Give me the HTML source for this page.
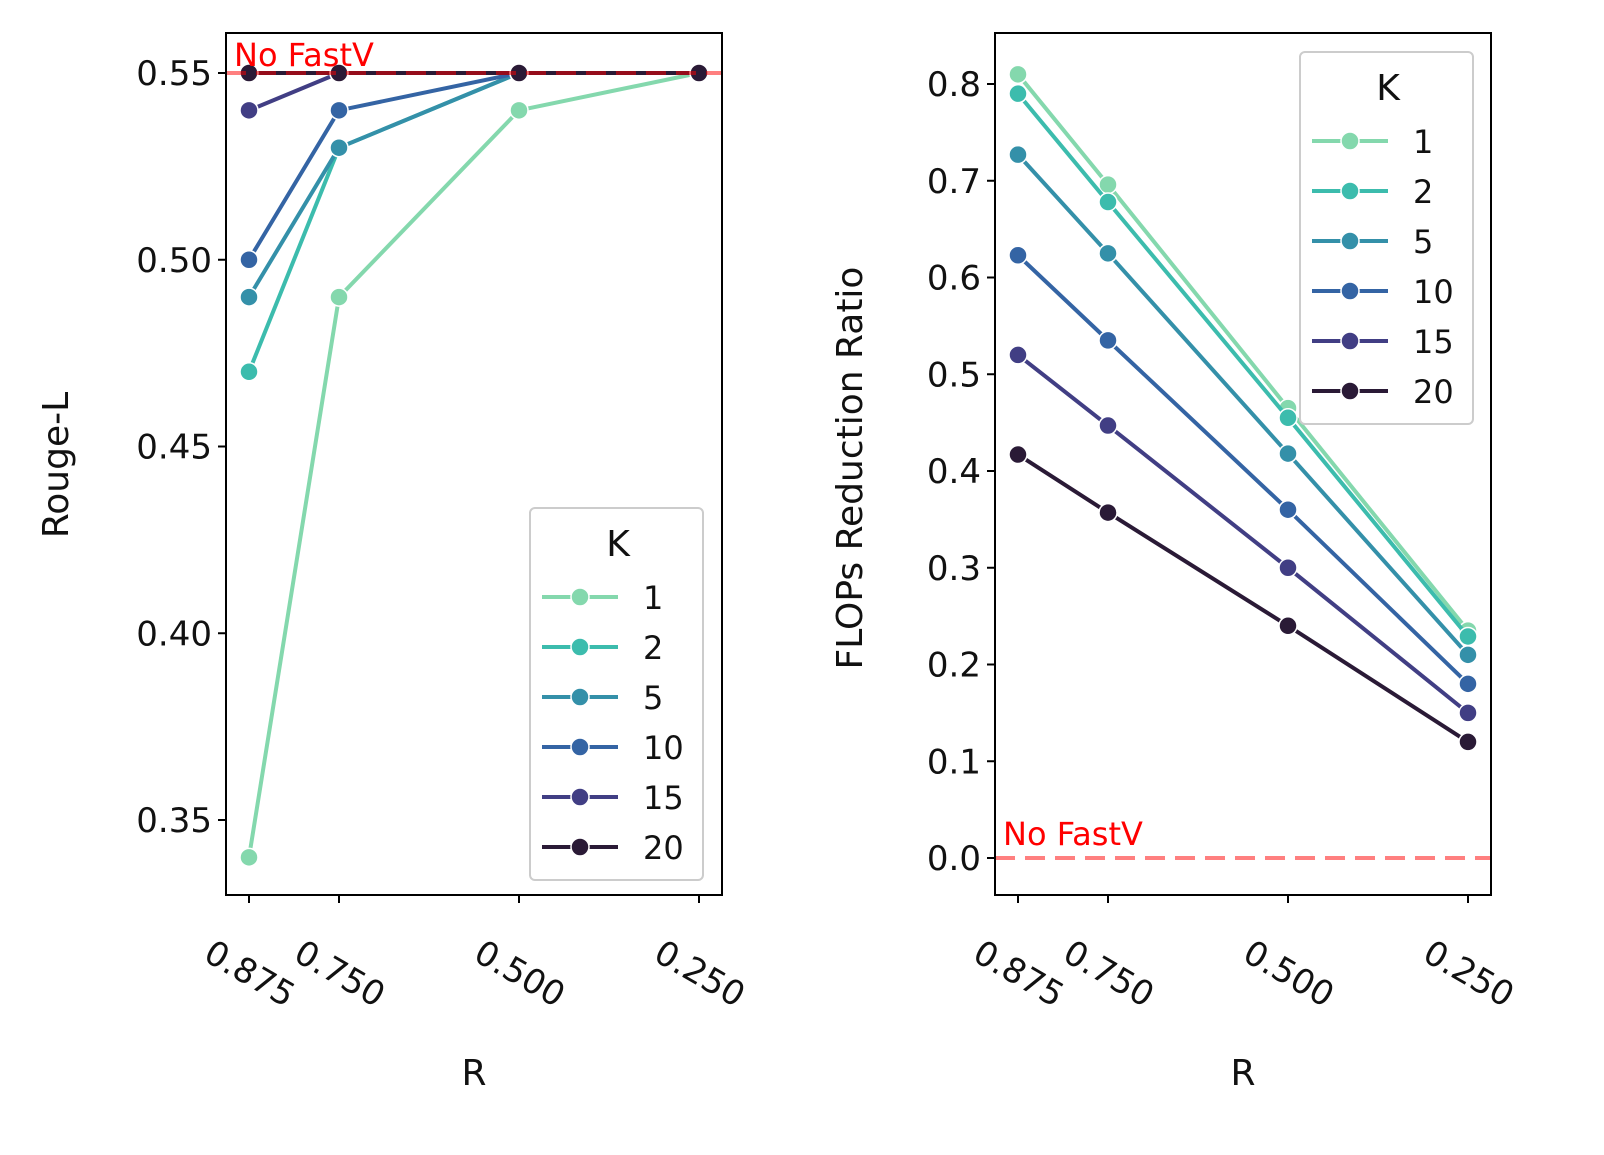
<!DOCTYPE html>
<html><head><meta charset="utf-8"><style>
html,body{margin:0;padding:0;background:#fff}
svg{display:block;font-family:"DejaVu Sans","Liberation Sans",sans-serif}
</style></head><body>
<svg id="chart" width="1604" height="1155" viewBox="0 0 1604 1155"></svg>
<script>
const categories=[0.875,0.75,0.5,0.25];
const tickLabels=["0.875","0.750","0.500","0.250"];
const kLabels=["1","2","5","10","15","20"];
const colors=["#84d8ad","#3cbcad","#3490a9","#3464a4","#413e84","#2a1a36"];
const rougeK1=[0.34,0.49,0.54,0.55];
const rougeK2=[0.47,0.53,0.55,0.55];
const rougeK5=[0.49,0.53,0.55,0.55];
const rougeK10=[0.50,0.54,0.55,0.55];
const rougeK15=[0.54,0.55,0.55,0.55];
const rougeK20=[0.55,0.55,0.55,0.55];
const flopsK1=[0.81,0.696,0.465,0.235];
const flopsK2=[0.79,0.678,0.455,0.229];
const flopsK5=[0.727,0.625,0.418,0.21];
const flopsK10=[0.623,0.535,0.36,0.18];
const flopsK15=[0.52,0.447,0.30,0.15];
const flopsK20=[0.417,0.357,0.24,0.12];
const rougeTicks=[0.35,0.40,0.45,0.50,0.55];
const flopsTicks=[0,0.1,0.2,0.3,0.4,0.5,0.6,0.7,0.8];
const rougeBaseline=0.55, flopsBaseline=0;

const NS="http://www.w3.org/2000/svg";
const svg=document.getElementById('chart');
function mk(tag,attrs,parent){const e=document.createElementNS(NS,tag);for(const k in attrs)e.setAttribute(k,attrs[k]);(parent||svg).appendChild(e);return e;}

function panel(p){
  const g=mk('g',{});
  
  
  const xs=v=>p.x0+(0.875-v)/(0.875-0.25)*(p.x1-p.x0);
  const ys=v=>p.yA+(v-p.vA)/(p.vB-p.vA)*(p.yB-p.yA);
  // ticks
  p.yticks.forEach(t=>{
    const y=ys(t);
    mk('line',{x1:p.left-8,x2:p.left,y1:y,y2:y,stroke:'#000','stroke-width':2},g);
    const tx=mk('text',{x:p.left-14,y:y+12,'text-anchor':'end','font-size':34,fill:'#111'},g);
    tx.textContent=p.fmt(t);
    
    
  });
  categories.forEach((c,i)=>{
    const x=xs(c);
    mk('line',{x1:x,x2:x,y1:p.bottom,y2:p.bottom+8,stroke:'#000','stroke-width':2},g);
    const tx=mk('text',{x:x,y:985,'text-anchor':'middle','font-size':34,fill:'#111',transform:`rotate(30 ${x} 975)`},g);
    tx.textContent=tickLabels[i];
    
    
  });
  // series
  p.series.forEach((s,si)=>{
    const sg=mk('g',{},g);
    
    
    const pts=categories.map((c,i)=>xs(c)+','+ys(s[i])).join(' ');
    mk('polyline',{points:pts,fill:'none',stroke:colors[si],'stroke-width':4},sg);
    categories.forEach((c,i)=>{
      const m=mk('circle',{cx:xs(c),cy:ys(s[i]),r:9,fill:colors[si],stroke:'#fff','stroke-width':1.5},sg);
      
      
    });
  });
  // baseline
  const by=ys(p.base);
  const bl=mk('line',{x1:p.left,x2:p.right,y1:by,y2:by,stroke:'#ff0000','stroke-opacity':0.5,'stroke-width':4,'stroke-dasharray':'20 10'},g);
  
  
  const bt=mk('text',{x:p.left+8,y:p.baseTextY,'font-size':32,fill:'#ff0000'},g);
  bt.textContent='No FastV';
  
  
  // frame
  mk('rect',{x:p.left,y:33,width:p.right-p.left,height:p.bottom-33,fill:'none',stroke:'#000','stroke-width':2},g);
  // legend
  const lg=mk('g',{},g);
  
  
  mk('rect',{x:p.lx,y:p.ly,width:173,height:372,rx:5,fill:'#fff','fill-opacity':0.85,stroke:'#ccc','stroke-width':2},lg);
  const kt=mk('text',{x:p.lx+88,y:p.ly+48,'text-anchor':'middle','font-size':36,fill:'#111'},lg);
  kt.textContent='K';
  kLabels.forEach((k,i)=>{
    const y=p.ly+89+i*50;
    mk('line',{x1:p.lx+12,x2:p.lx+88,y1:y,y2:y,stroke:colors[i],'stroke-width':4,'stroke-dasharray':'30 16'},lg);
    mk('circle',{cx:p.lx+50,cy:y,r:9,fill:colors[i],stroke:'#fff','stroke-width':1.5},lg);
    const t=mk('text',{x:p.lx+113,y:y+12,'font-size':32,fill:'#111'},lg);
    t.textContent=k;
    
    
  });
  // axis labels
  const xl=mk('text',{x:(p.left+p.right)/2,y:1085,'text-anchor':'middle','font-size':36,fill:'#111'},g);
  xl.textContent='R';
  
  
  const yl=mk('text',{x:p.ylx,y:p.yly,'text-anchor':'middle','font-size':36,fill:'#111',transform:`rotate(-90 ${p.ylx} ${p.yly})`},g);
  yl.textContent=p.ytitle;
  
  
}

panel({name:'rouge-panel',left:226,right:722,bottom:895,x0:249,x1:699,yA:820,vA:0.35,yB:73,vB:0.55,
  yticks:rougeTicks,fmt:t=>t.toFixed(2),series:[rougeK1,rougeK2,rougeK5,rougeK10,rougeK15,rougeK20],
  base:rougeBaseline,baseTextY:66,lx:530,ly:508,ytitle:'Rouge-L',ylx:68,yly:465});
panel({name:'flops-panel',left:995,right:1491,bottom:895,x0:1018,x1:1468,yA:858,vA:0,yB:84,vB:0.8,
  yticks:flopsTicks,fmt:t=>t.toFixed(1),series:[flopsK1,flopsK2,flopsK5,flopsK10,flopsK15,flopsK20],
  base:flopsBaseline,baseTextY:845,lx:1300,ly:52,ytitle:'FLOPs Reduction Ratio',ylx:862,yly:468});
</script>
</body></html>
